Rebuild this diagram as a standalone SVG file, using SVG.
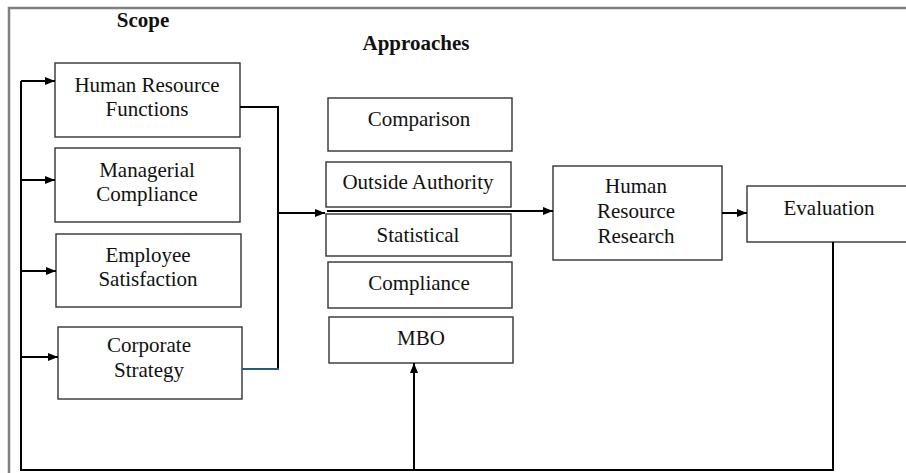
<svg xmlns="http://www.w3.org/2000/svg" width="906" height="473" viewBox="0 0 906 473">
<defs>
<marker id="ah" markerWidth="10" markerHeight="8" refX="10" refY="4" orient="auto" markerUnits="userSpaceOnUse">
<path d="M0,0 L10,4 L0,8 Z" fill="#000"/>
</marker>
<style>
.box{fill:#fff;stroke:#333;stroke-width:1.4}
.t{font-family:"Liberation Serif","Times New Roman",serif;font-size:21px;fill:#111;text-anchor:middle}
.h{font-family:"Liberation Serif","Times New Roman",serif;font-size:21px;font-weight:bold;fill:#111;text-anchor:middle}
.c{fill:none;stroke:#000;stroke-width:2}
</style>
</defs>
<rect width="906" height="473" fill="#fff"/>
<path d="M9,473 V8 H906" fill="none" stroke="#808080" stroke-width="2.5"/>
<text class="h" x="143" y="27">Scope</text>
<text class="h" x="416" y="50">Approaches</text>
<g id="hrf"><rect class="box" x="55" y="63" width="185" height="74"/><text class="t" x="147" y="92">Human Resource</text><text class="t" x="147" y="116">Functions</text></g>
<g id="managerial"><rect class="box" x="55" y="148" width="185" height="74"/><text class="t" x="147" y="177">Managerial</text><text class="t" x="147" y="201">Compliance</text></g>
<g id="employee"><rect class="box" x="56" y="234" width="185" height="73"/><text class="t" x="148" y="262">Employee</text><text class="t" x="148" y="286">Satisfaction</text></g>
<g id="corporate"><rect class="box" x="58" y="327" width="184" height="72"/><text class="t" x="149" y="352">Corporate</text><text class="t" x="149" y="377">Strategy</text></g>
<g id="comparison"><rect class="box" x="328" y="98" width="184" height="53"/><text class="t" x="419" y="126">Comparison</text></g>
<g id="outside"><rect class="box" x="326" y="162" width="185" height="45"/><text class="t" x="418" y="189">Outside Authority</text></g>
<g id="statistical"><rect class="box" x="326" y="214" width="185" height="42"/><text class="t" x="418" y="242">Statistical</text></g>
<g id="compliance"><rect class="box" x="328" y="262" width="184" height="46"/><text class="t" x="419" y="290">Compliance</text></g>
<g id="mbo"><rect class="box" x="329" y="317" width="184" height="46"/><text class="t" x="421" y="345">MBO</text></g>
<g id="hrr"><rect class="box" x="553" y="166" width="169" height="94"/><text class="t" x="636" y="193">Human</text><text class="t" x="636" y="218">Resource</text><text class="t" x="636" y="243">Research</text></g>
<g id="evaluation"><rect class="box" x="747" y="186" width="165" height="56"/><text class="t" x="829" y="215">Evaluation</text></g>
<g id="connectors">
<path class="c" d="M833,242 V470 H21 V81"/>
<path class="c" d="M21,81 H55" marker-end="url(#ah)"/>
<path class="c" d="M21,180 H55" marker-end="url(#ah)"/>
<path class="c" d="M21,271 H56" marker-end="url(#ah)"/>
<path class="c" d="M21,357 H58" marker-end="url(#ah)"/>
<path class="c" d="M240,107 H278 V369"/>
<path d="M242,369 H279" fill="none" stroke="#2e5a6e" stroke-width="2"/>
<path class="c" d="M278,213 H325" marker-end="url(#ah)"/>
<path class="c" d="M327,211 H553" marker-end="url(#ah)"/>
<path class="c" d="M722,213 H747" marker-end="url(#ah)"/>
<path class="c" d="M414,470 V363" marker-end="url(#ah)"/>
</g>
</svg>
